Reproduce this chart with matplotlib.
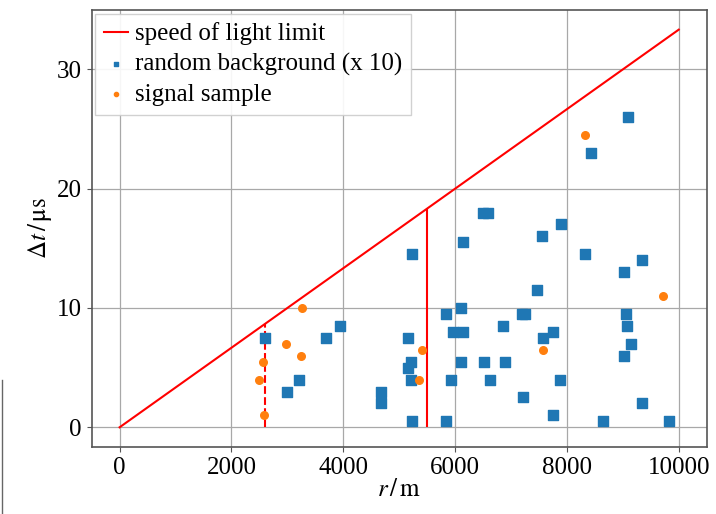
import matplotlib
matplotlib.use("Agg")
import matplotlib.pyplot as plt
from matplotlib.lines import Line2D

# speed of light limit (r in m, t in us)
limit_r = [0, 10000]
limit_t = [0, 33.33]

# cut lines: position and height
cut_r = [5500, 2600]
cut_top = [18.33, 8.67]

bg_r = [2600, 3700, 3950, 5150, 5220, 5150, 5220, 3200, 3000, 4670, 4670, 5230,
        6500, 6580, 7900, 7550, 6150, 5230, 8320, 9340, 9030, 7470, 6100, 5830,
        7200, 7250, 9050, 9070, 6850, 5960, 6140, 7760, 7580, 9140, 9030, 6110,
        6520, 6890, 5920, 6630, 7870, 7210, 9340, 7760, 5830, 8640, 9820, 9100,
        8430]
bg_t = [7.5, 7.5, 8.5, 7.5, 5.5, 5.0, 4.0, 4.0, 3.0, 3.0, 2.0, 0.5,
        18.0, 18.0, 17.0, 16.0, 15.5, 14.5, 14.5, 14.0, 13.0, 11.5, 10.0, 9.5,
        9.5, 9.5, 9.5, 8.5, 8.5, 8.0, 8.0, 8.0, 7.5, 7.0, 6.0, 5.5,
        5.5, 5.5, 4.0, 4.0, 4.0, 2.5, 2.0, 1.0, 0.5, 0.5, 0.5, 26.0,
        23.0]

sig_r = [3260, 2980, 3240, 2570, 2500, 2580, 5400, 5350, 9710, 7580, 8320]
sig_t = [10.0, 7.0, 6.0, 5.5, 4.0, 1.0, 6.5, 4.0, 11.0, 6.5, 24.5]


def main():
    plt.rcParams["font.family"] = ["Liberation Serif", "DejaVu Serif"]
    plt.rcParams["mathtext.fontset"] = "stix"
    plt.rcParams["font.size"] = 16

    fig = plt.figure(figsize=(7.16, 5.14), dpi=100)
    ax = fig.add_axes([0.128, 0.130, 0.859, 0.851])

    ax.plot(limit_r, limit_t, color="red", lw=1.5, label="speed of light limit")
    ax.vlines(cut_r[0], 0, cut_top[0], color="red", lw=1.5)
    ax.vlines(cut_r[1], 0, cut_top[1], color="red", lw=1.5, linestyles="--")
    ax.scatter(bg_r, bg_t, marker="s", s=42, color="tab:blue",
               label="random background (x 10)", zorder=3)
    ax.scatter(sig_r, sig_t, marker="o", s=30, color="tab:orange",
               label="signal sample", zorder=3)

    ax.set_xticks([0, 2000, 4000, 6000, 8000, 10000])
    ax.set_yticks([0, 10, 20, 30])
    ax.grid(True, color="#a8a8a8", lw=0.9)
    ax.set_axisbelow(True)
    for sp in ax.spines.values():
        sp.set_color("#555555")
        sp.set_linewidth(1.2)
    ax.tick_params(colors="#555555", labelcolor="black", labelsize=18)

    ax.set_xlabel(r"$r\,/\,\mathrm{m}$", fontsize=18, labelpad=0)
    ax.set_ylabel(r"$\Delta t\,/\,\mathrm{\mu s}$", fontsize=18, labelpad=2)

    ax.legend(loc="upper left", fontsize=18, handlelength=0.95,
              handletextpad=0.3, borderpad=0.35, labelspacing=0.3,
              borderaxespad=0.15, fancybox=False, edgecolor="#cccccc",
              framealpha=0.9, markerscale=0.55)

    fig.add_artist(Line2D([0.003, 0.003], [0.0, 0.26], color="#666666", lw=1))
    fig.savefig("out.png", dpi=100)


if __name__ == '__main__':
    main()
